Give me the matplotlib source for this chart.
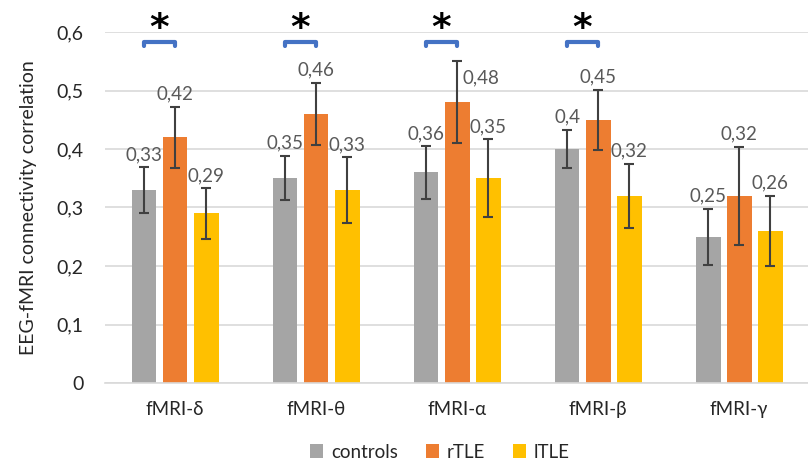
import matplotlib.pyplot as plt
import numpy as np

plt.rcParams['font.family'] = ['Lato', 'DejaVu Sans']

bands = ['fMRI-δ', 'fMRI-θ', 'fMRI-α', 'fMRI-β', 'fMRI-γ']
groups = ['controls', 'rTLE', 'lTLE']
controls = [0.33, 0.35, 0.36, 0.40, 0.25]
rtle = [0.42, 0.46, 0.48, 0.45, 0.32]
ltle = [0.29, 0.33, 0.35, 0.32, 0.26]
controls_err = [0.039, 0.038, 0.045, 0.033, 0.048]
rtle_err = [0.052, 0.053, 0.070, 0.051, 0.084]
ltle_err = [0.043, 0.056, 0.067, 0.055, 0.060]
significant = [True, True, True, True, False]

colors = ['#A5A5A5', '#ED7D31', '#FFC000']
text_color = '#595959'
grid_color = '#D9D9D9'

fig = plt.figure(figsize=(8.08, 4.61), dpi=100)
ax = fig.add_axes([104.5 / 808, 1 - 383 / 461, 703.5 / 808, 351 / 461])

x = np.arange(len(bands))
width = 0.177
step = 0.22

series = [(controls, controls_err), (rtle, rtle_err), (ltle, ltle_err)]
for i, (vals, errs) in enumerate(series):
    pos = x + (i - 1) * step
    ax.bar(pos, vals, width, color=colors[i], label=groups[i], zorder=2)
    ax.errorbar(pos, vals, yerr=errs, fmt='none', ecolor='#404040',
                elinewidth=1.5, capsize=3.5, capthick=1.5, zorder=3)
    for j, (p, v, e) in enumerate(zip(pos, vals, errs)):
        lbl = ('%g' % v).replace('.', ',')
        if i == 1 and j == 2:
            # label pushed to the right of the error bar
            ax.annotate(lbl, (p, v + e), xytext=(4, -12), textcoords='offset points',
                        ha='left', va='center', fontsize=13.5, color=text_color)
        else:
            ax.annotate(lbl, (p, v + e), xytext=(0, 3), textcoords='offset points',
                        ha='center', va='bottom', fontsize=13.5, color=text_color)

# significance brackets between controls and rTLE
for k, sig in enumerate(significant):
    if not sig:
        continue
    x0 = x[k] - step
    x1 = x[k]
    yb = 0.583
    ax.plot([x0, x0, x1, x1], [yb - 0.007, yb, yb, yb - 0.007], color='#4472C4',
            lw=3, solid_capstyle='round', solid_joinstyle='round', clip_on=False, zorder=4)
    ax.text((x0 + x1) / 2, 0.605, '*', ha='center', va='center', fontsize=27,
            fontweight='bold', color='black', family='DejaVu Sans')

ax.set_xlim(-0.5, 4.489)
ax.set_ylim(0, 0.6)
ax.set_yticks(np.arange(0, 0.61, 0.1))
ax.set_yticklabels(['0'] + [('%.1f' % v).replace('.', ',') for v in np.arange(0.1, 0.61, 0.1)])
ax.set_xticks(x)
ax.set_xticklabels(bands)
ax.tick_params(axis='y', length=0, pad=15, labelsize=14, labelcolor='#262626')
ax.tick_params(axis='x', length=0, pad=13, labelsize=13.5, labelcolor='#262626')

ax.yaxis.grid(True, color=grid_color, lw=1.2, zorder=0)
ax.set_axisbelow(True)
for s in ['top', 'right', 'left']:
    ax.spines[s].set_visible(False)
ax.spines['bottom'].set_color(grid_color)
ax.spines['bottom'].set_linewidth(1.2)

ax.set_ylabel('EEG-fMRI connectivity correlation', fontsize=14, color='#262626', labelpad=14)

ax.legend(loc='center', bbox_to_anchor=(440 / 808, 1 - 452 / 461), bbox_transform=fig.transFigure,
          ncol=3, frameon=False, fontsize=13.5, handlelength=0.7, handleheight=0.7,
          handletextpad=0.4, columnspacing=1.5, labelcolor='#262626')

fig.savefig('out.png', dpi=100)
